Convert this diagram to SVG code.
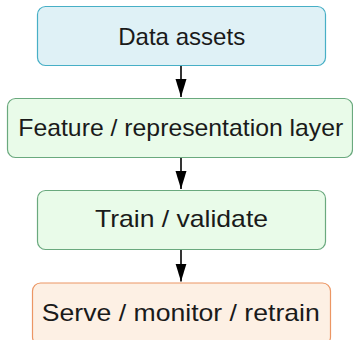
<svg xmlns="http://www.w3.org/2000/svg" width="353" height="340" viewBox="0 0 353 340">
<defs>
<style>
text{font-family:"Liberation Sans",Arial,sans-serif;font-size:24px;fill:#1a1a1a;text-anchor:middle}
.blue{fill:#dff1f6;stroke:#47afc6;stroke-width:1.2}
.green{fill:#e9fbe9;stroke:#6aa97e;stroke-width:1.2}
.orange{fill:#fdf0e4;stroke:#ec9664;stroke-width:1.2}
.edge{stroke:#000;stroke-width:1.6;fill:none}
</style>
<marker id="arr" markerWidth="18" markerHeight="12" refX="18" refY="5.5" orient="auto" markerUnits="userSpaceOnUse" viewBox="0 0 18 11">
<path d="M0,0 L18,5.5 L0,11 Z" fill="#000"/>
</marker>
</defs>
<g id="connectors">
<line class="edge" x1="181" y1="66" x2="181" y2="97" marker-end="url(#arr)"/>
<line class="edge" x1="181" y1="158" x2="181" y2="189" marker-end="url(#arr)"/>
<line class="edge" x1="181" y1="250" x2="181" y2="281.5" marker-end="url(#arr)"/>
</g>
<g id="data-assets">
<rect class="blue" x="37.5" y="6.5" width="288" height="59" rx="8"/>
<text x="181.7" y="45" textLength="127" lengthAdjust="spacingAndGlyphs">Data assets</text>
</g>
<g id="feature-layer">
<rect class="green" x="7.5" y="98.5" width="345" height="59" rx="8"/>
<text x="180.8" y="135.5" textLength="325" lengthAdjust="spacingAndGlyphs">Feature / representation layer</text>
</g>
<g id="train-validate">
<rect class="green" x="37.5" y="190.5" width="288" height="59" rx="8"/>
<text x="181.5" y="227" textLength="173" lengthAdjust="spacingAndGlyphs">Train / validate</text>
</g>
<g id="serve-monitor">
<rect class="orange" x="32.5" y="283" width="298" height="62" rx="8"/>
<text x="180.8" y="321" textLength="278" lengthAdjust="spacingAndGlyphs">Serve / monitor / retrain</text>
</g>
</svg>
